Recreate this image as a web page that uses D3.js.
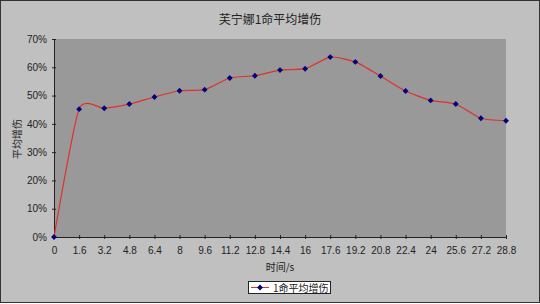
<!DOCTYPE html>
<html>
<head>
<meta charset="utf-8">
<script src="https://cdn.jsdelivr.net/npm/d3@7"></script>
<style>
  body { margin: 0; background: #fff; }
  text { font-family: "Liberation Sans", Arial, "Noto Sans CJK SC", sans-serif; }
  .cjk { font-family: "Noto Sans CJK SC", sans-serif; }
</style>
</head>
<body>
<div id="chart"></div>
<script>
// donnees
const times = ["0","1.6","3.2","4.8","6.4","8","9.6","11.2","12.8","14.4","16","17.6","19.2","20.8","22.4","24","25.6","27.2","28.8"];
const damage = [0, 0.452, 0.455, 0.470, 0.495, 0.517, 0.521, 0.562, 0.570, 0.590, 0.595, 0.636, 0.619, 0.569, 0.516, 0.483, 0.470, 0.420, 0.411];
const yTicks = [0, 0.1, 0.2, 0.3, 0.4, 0.5, 0.6, 0.7];

const title = "芙宁娜1命平均增伤";
const seriesName = "1命平均增伤";

const W = 540, H = 304;
const plot = {left: 54, right: 506, top: 39, bottom: 237};

const svg = d3.select("#chart")
  .append("svg")
  .attr("width", W)
  .attr("height", H);

//fond
svg.append("rect")
  .attr("x", 0.5).attr("y", 0.5)
  .attr("width", W - 1).attr("height", H - 2)
  .attr("fill", "#c0c0c0")
  .attr("stroke", "#333")
  .attr("stroke-width", 1);

svg.append("rect")
  .attr("x", plot.left).attr("y", plot.top)
  .attr("width", plot.right - plot.left)
  .attr("height", plot.bottom - plot.top)
  .attr("fill", "#999999");

//echelles
const x = d3.scalePoint()
  .domain(times)
  .range([plot.left, plot.right]);

const y = d3.scaleLinear()
  .domain([0, 0.7])
  .range([plot.bottom, plot.top]);

//axes
const xAxis = svg.append("g")
  .attr("transform", `translate(0,${plot.bottom})`)
  .call(d3.axisBottom(x).tickSize(2).tickPadding(8));

const yAxis = svg.append("g")
  .attr("transform", `translate(${plot.left},0)`)
  .call(d3.axisLeft(y).tickValues(yTicks).tickFormat(d3.format(".0%")).tickSize(2).tickPadding(5));

[xAxis, yAxis].forEach(a => {
  a.select(".domain").attr("stroke", "#222");
  a.selectAll(".tick line").attr("stroke", "#222").attr("y1", a === xAxis ? -2 : null).attr("x1", a === yAxis ? 2 : null);
  a.selectAll(".tick text").attr("fill", "#222").style("font-size", "10px");
});

//courbe lissee
const line = d3.line()
  .x((d, i) => x(times[i]))
  .y(d => y(d))
  .curve(d3.curveCardinal.tension(0.4));

svg.append("path")
  .datum(damage)
  .attr("d", line)
  .attr("fill", "none")
  .attr("stroke", "#e0302a")
  .attr("stroke-width", 1.2);

//marqueurs
const diamond = d3.symbol().type(d3.symbolDiamond2).size(22);
svg.append("g")
  .selectAll("path")
  .data(damage)
  .enter()
  .append("path")
  .attr("d", diamond)
  .attr("transform", (d, i) => `translate(${x(times[i])},${y(d)})`)
  .attr("fill", "#000080");

//titres
svg.append("text")
  .attr("class", "cjk")
  .attr("x", 270).attr("y", 24)
  .attr("text-anchor", "middle")
  .style("font-size", "12px")
  .attr("fill", "#222")
  .text(title);

svg.append("text")
  .attr("class", "cjk")
  .attr("transform", "translate(21,139) rotate(-90)")
  .attr("text-anchor", "middle")
  .style("font-size", "10px")
  .attr("fill", "#222")
  .text("平均增伤");

svg.append("text")
  .attr("class", "cjk")
  .attr("x", 280).attr("y", 271)
  .attr("text-anchor", "middle")
  .style("font-size", "10px")
  .attr("fill", "#222")
  .text("时间/s");

//legende
const legend = svg.append("g").attr("transform", "translate(248,281)");
legend.append("rect")
  .attr("x", 0.5).attr("y", 0.5)
  .attr("width", 82).attr("height", 12)
  .attr("fill", "#fff")
  .attr("stroke", "#222");
legend.append("line")
  .attr("x1", 3).attr("x2", 21)
  .attr("y1", 6.5).attr("y2", 6.5)
  .attr("stroke", "#e0302a");
legend.append("path")
  .attr("d", diamond)
  .attr("transform", "translate(12,6.5)")
  .attr("fill", "#000080");
legend.append("text")
  .attr("class", "cjk")
  .attr("x", 25).attr("y", 10.5)
  .style("font-size", "10px")
  .attr("fill", "#222")
  .text(seriesName);
</script>
</body>
</html>
